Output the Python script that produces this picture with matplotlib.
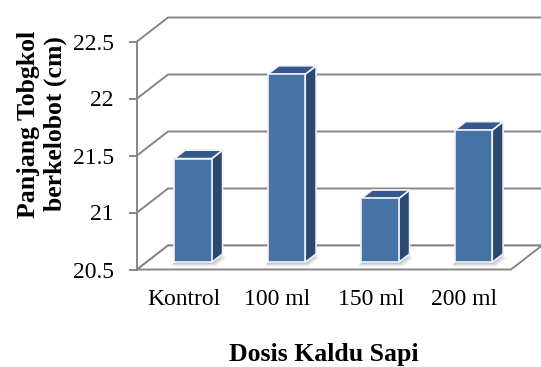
import matplotlib
matplotlib.use("Agg")
import matplotlib.pyplot as plt
from matplotlib.patches import Polygon

categories = ["Kontrol", "100 ml", "150 ml", "200 ml"]
panjang = [21.41, 22.15, 21.06, 21.66]
y_ticks = [20.5, 21, 21.5, 22, 22.5]
y_tick_labels = ["20.5", "21", "21.5", "22", "22.5"]

W_PX, H_PX, DPI = 541, 367, 100
plt.rcParams['font.family'] = ['Liberation Serif', 'DejaVu Serif']

fig = plt.figure(figsize=(W_PX / DPI, H_PX / DPI), dpi=DPI)

# front plane of the 3-D box (pixels)
left, right, top, bottom = 137, 511, 41.5, 269.5
ax = fig.add_axes([left / W_PX, 1 - bottom / H_PX,
                   (right - left) / W_PX, (bottom - top) / H_PX])
ax.set_xlim(0, len(categories))
ax.set_ylim(y_ticks[0], y_ticks[-1])
ax.patch.set_visible(False)

# oblique depth of the box, converted to data units
DEPTH_PX = (31, 24)
ux = (right - left) / len(categories)
uy = (bottom - top) / (y_ticks[-1] - y_ticks[0])
DX = DEPTH_PX[0] / ux
DY = DEPTH_PX[1] / uy


def P(x, y, f):
    return (x + f * DX, y + f * DY)


grid_col = "#868686"
base = y_ticks[0]
n = len(categories)

# floor
floor = Polygon([P(0, base, 0), P(n, base, 0), P(n, base, 1), P(0, base, 1)],
                closed=True, facecolor="white", edgecolor=grid_col, lw=1.4,
                zorder=2, clip_on=False)
ax.add_patch(floor)

# back wall / side wall gridlines
for v in y_ticks:
    pts = [P(0, v, 0), P(0, v, 1), P(n, v, 1)]
    ax.plot([p[0] for p in pts], [p[1] for p in pts], color=grid_col,
            lw=1.4, zorder=1, clip_on=False, solid_joinstyle="miter")

# bars
bw = 0.4
f1, f2 = 0.30, 0.65
front_col, side_col, top_col, edge_col = "#4672a6", "#2c4870", "#35588a", "#eef2f8"
for i, v in enumerate(panjang):
    xc = i + 0.5
    x0, x1 = xc - bw / 2, xc + bw / 2
    # soft shadow on the floor
    for k, a in zip([4, 3, 2, 1], [0.10, 0.14, 0.18, 0.22]):
        ex = k / ux
        ey = k / uy
        sh = Polygon([P(x0 - ex, base - ey, f1), P(x1 + ex, base - ey, f1),
                      P(x1 + ex, base - ey, f2), P(x0 - ex, base - ey, f2)],
                     closed=True, facecolor="#7f7f7f", edgecolor="none",
                     alpha=a, zorder=3, clip_on=False)
        ax.add_patch(sh)
    # front face
    ax.bar(xc + f1 * DX, v - base, bottom=base + f1 * DY, width=bw,
           color=front_col, edgecolor=edge_col, linewidth=1.2, zorder=5)
    side = Polygon([P(x1, base, f1), P(x1, base, f2), P(x1, v, f2), P(x1, v, f1)],
                   closed=True, facecolor=side_col, edgecolor=edge_col,
                   lw=1.2, zorder=4)
    topf = Polygon([P(x0, v, f1), P(x1, v, f1), P(x1, v, f2), P(x0, v, f2)],
                   closed=True, facecolor=top_col, edgecolor=edge_col,
                   lw=1.2, zorder=4)
    ax.add_patch(side)
    ax.add_patch(topf)

# axes styling
for s in ["top", "right", "bottom"]:
    ax.spines[s].set_visible(False)
ax.spines["left"].set_color(grid_col)
ax.spines["left"].set_linewidth(1.4)
ax.spines["left"].set_zorder(6)

ax.set_yticks(y_ticks, y_tick_labels, fontsize=17)
ax.tick_params(axis="y", direction="out", length=5.8, width=1.4,
               color=grid_col, pad=11)
ax.set_xticks([i + 0.5 for i in range(n)], categories, fontsize=17)
ax.tick_params(axis="x", length=0, pad=14)

fig.text(42 / W_PX, 1 - 124 / H_PX, "Panjang Tobgkol\nberkelobot (cm)",
         rotation=90, ha="center", va="center", multialignment="center",
         fontsize=18.5, fontweight="bold", linespacing=1.25)
fig.text(324 / W_PX, 1 - 361 / H_PX, "Dosis Kaldu Sapi", ha="center",
         va="baseline", fontsize=18.5, fontweight="bold")

fig.savefig("out.png", dpi=DPI)
